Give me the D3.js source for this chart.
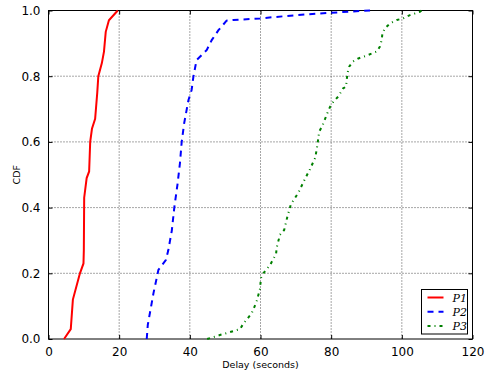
<!DOCTYPE html>
<html>
<head>
<meta charset="utf-8">
<script src="https://cdn.jsdelivr.net/npm/d3@7"></script>
<style>
  body { margin: 0; background: #fff; }
  text { font-family: "DejaVu Sans", sans-serif; }
</style>
</head>
<body>
<div id="chart"></div>
<script>
(function () {
  'use strict';

  // --- Data ---
  const p1X = [4.4, 6.3, 6.9, 8.9, 9.9, 10.0, 10.1, 10.8, 11.5, 11.8, 12.3, 13.2, 13.8, 14.1, 15.1, 15.7, 16.2, 17.1, 19.6];
  const p1Y = [0, 0.03, 0.12, 0.2, 0.23, 0.27, 0.43, 0.49, 0.51, 0.60, 0.64, 0.67, 0.75, 0.80, 0.84, 0.875, 0.935, 0.97, 1.0];

  const p2X = [27.8, 28.1, 29.7, 31.1, 33.2, 33.9, 34.9, 35.6, 36.5, 37.2, 37.7, 38.4, 39.6, 40.5, 41.0, 41.9, 44.8, 46.2, 48.1, 50.4, 52.3, 59.9, 70.2, 79.7, 91.0];
  const p2Y = [0, 0.043, 0.139, 0.21, 0.24, 0.27, 0.33, 0.40, 0.47, 0.535, 0.60, 0.657, 0.727, 0.758, 0.798, 0.849, 0.88, 0.91, 0.94, 0.969, 0.971, 0.976, 0.986, 0.993, 1.0];

  const p3X = [44.9, 48.5, 52.3, 54.2, 55.1, 57.5, 58.9, 59.9, 60.1, 60.8, 62.7, 64.4, 64.6, 65.5, 66.7, 67.6, 68.6, 70.7, 72.3, 74.0, 75.5, 76.1, 76.6, 77.6, 78.7, 79.7, 80.6, 82.0, 83.4, 84.2, 84.6, 85.1, 86.1, 87.7, 89.6, 92.9, 93.8, 94.3, 94.5, 95.2, 96.7, 98.6, 100.4, 102.3, 105.1, 105.6];
  const p3Y = [0, 0.012, 0.024, 0.03, 0.046, 0.078, 0.114, 0.154, 0.185, 0.2, 0.225, 0.259, 0.279, 0.317, 0.332, 0.372, 0.41, 0.445, 0.481, 0.517, 0.552, 0.59, 0.631, 0.651, 0.682, 0.707, 0.722, 0.738, 0.763, 0.768, 0.809, 0.829, 0.844, 0.854, 0.861, 0.875, 0.89, 0.91, 0.93, 0.946, 0.961, 0.971, 0.976, 0.986, 0.996, 1.0];

  const xTicks = [0, 20, 40, 60, 80, 100, 120];
  const yTicks = [0, 0.2, 0.4, 0.6, 0.8, 1.0];

  const seriesNames = ['P1', 'P2', 'P3'];
  const seriesX = [p1X, p2X, p3X];
  const seriesY = [p1Y, p2Y, p3Y];

  // --- Styles ---
  const STYLES = [
    { color: '#ff0000', dash: null },
    { color: '#0000ff', dash: '6,5' },
    { color: '#008000', dash: '3,4,1,4' },
  ];

  const W = 489, H = 374;
  const margin = { top: 10.5, right: 16.5, bottom: 35, left: 48.5 };
  const width = W - margin.left - margin.right;
  const height = H - margin.top - margin.bottom;

  const svg = d3.select('#chart').append('svg')
    .attr('width', W).attr('height', H);

  const g = svg.append('g')
    .attr('transform', `translate(${margin.left},${margin.top})`);

  const x = d3.scaleLinear().domain([0, 120]).range([0, width]);
  const y = d3.scaleLinear().domain([0, 1]).range([height, 0]);

  // Grid
  const grid = g.append('g').attr('class', 'grid');
  grid.selectAll('line.gx').data(xTicks.slice(1, -1)).enter().append('line')
    .attr('x1', d => x(d)).attr('x2', d => x(d))
    .attr('y1', 0).attr('y2', height)
    .attr('stroke', '#000').attr('stroke-width', 0.7).attr('stroke-dasharray', '1,2');
  grid.selectAll('line.gy').data(yTicks.slice(1, -1)).enter().append('line')
    .attr('y1', d => y(d)).attr('y2', d => y(d))
    .attr('x1', 0).attr('x2', width)
    .attr('stroke', '#000').attr('stroke-width', 0.7).attr('stroke-dasharray', '1,2');

  // Axes (ticks pointing inward, like classic matplotlib)
  const xAxis = g.append('g').attr('transform', `translate(0,${height})`)
    .call(d3.axisBottom(x).tickValues(xTicks).tickSize(-4).tickPadding(8).tickFormat(d3.format('d')));
  const xAxisTop = g.append('g')
    .call(d3.axisTop(x).tickValues(xTicks).tickSize(-4).tickFormat(''));
  const yAxis = g.append('g')
    .call(d3.axisLeft(y).tickValues(yTicks).tickSize(-4).tickPadding(8).tickFormat(d3.format('.1f')));
  const yAxisRight = g.append('g').attr('transform', `translate(${width},0)`)
    .call(d3.axisRight(y).tickValues(yTicks).tickSize(-4).tickFormat(''));

  [xAxis, xAxisTop, yAxis, yAxisRight].forEach(a => {
    a.select('.domain').remove();
    a.selectAll('.tick line').attr('stroke', '#000').attr('stroke-width', 1);
    a.selectAll('.tick text').attr('font-size', 12).attr('fill', '#000');
  });

  // Frame
  g.append('rect').attr('x', 0).attr('y', 0).attr('width', width).attr('height', height)
    .attr('fill', 'none').attr('stroke', '#000').attr('stroke-width', 1);

  // Lines
  const line = d3.line().x(d => x(d[0])).y(d => y(d[1]));
  seriesX.forEach((xs, i) => {
    const pts = xs.map((v, j) => [v, seriesY[i][j]]);
    g.append('path')
      .attr('d', line(pts))
      .attr('fill', 'none')
      .attr('stroke', STYLES[i].color)
      .attr('stroke-width', 2)
      .attr('stroke-dasharray', STYLES[i].dash);
  });

  // Axis labels
  svg.append('text')
    .attr('x', margin.left + width / 2).attr('y', H - 6)
    .attr('text-anchor', 'middle').attr('font-size', 9.5)
    .text('Delay (seconds)');
  svg.append('text')
    .attr('transform', `translate(20,${margin.top + height / 2}) rotate(-90)`)
    .attr('text-anchor', 'middle').attr('font-size', 9.5)
    .text('CDF');

  // Legend
  const lg = svg.append('g').attr('transform', 'translate(421.5,289.5)');
  lg.append('rect').attr('width', 46).attr('height', 44.5)
    .attr('fill', '#fff').attr('stroke', '#000').attr('stroke-width', 1);
  seriesNames.forEach((name, i) => {
    const yy = 8 + i * 14.3;
    lg.append('line')
      .attr('x1', 6).attr('x2', 22).attr('y1', yy).attr('y2', yy)
      .attr('stroke', STYLES[i].color).attr('stroke-width', 2)
      .attr('stroke-dasharray', STYLES[i].dash);
    lg.append('text')
      .attr('x', 31).attr('y', yy + 4)
      .style('font-family', '"DejaVu Serif", serif')
      .style('font-style', 'italic')
      .style('font-size', '11px')
      .text(name);
  });
})();
</script>
</body>
</html>
